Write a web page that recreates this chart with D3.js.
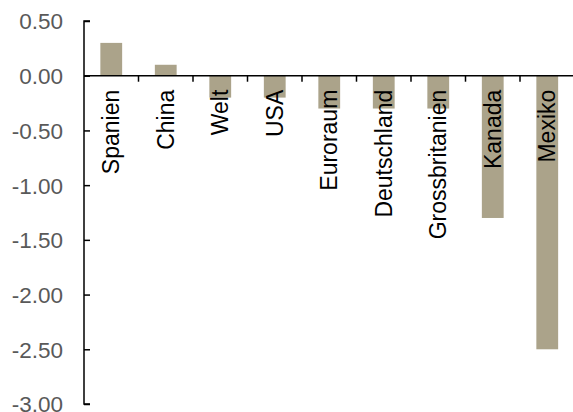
<!DOCTYPE html>
<html>
<head>
<meta charset="utf-8">
<script src="https://cdn.jsdelivr.net/npm/d3@7"></script>
<style>
  html, body { margin: 0; padding: 0; background: #fff; }
  svg { display: block; font-family: "Liberation Sans", Arial, sans-serif; }
</style>
</head>
<body>
<svg id="chart" width="573" height="412"></svg>
<script>
// Change by country (percentage points)
const categories = ["Spanien", "China", "Welt", "USA", "Euroraum", "Deutschland", "Grossbritanien", "Kanada", "Mexiko"];
const values = [0.3, 0.1, -0.2, -0.2, -0.3, -0.3, -0.3, -1.3, -2.5];
const yTicks = [0.5, 0, -0.5, -1, -1.5, -2, -2.5, -3];

const svg = d3.select("#chart");
const W = 573, H = 412;

const x = d3.scaleBand()
  .domain(categories)
  .range([84, 574.5])
  .paddingInner(0.6)
  .paddingOuter(0.3);

const y = d3.scaleLinear()
  .domain([-3, 0.5])
  .range([404, 21]);

// Plain hyphen-minus for negative tick labels
const fmt = d3.formatLocale({ decimal: ".", thousands: ",", grouping: [3], currency: ["", ""], minus: "-" }).format(".2f");

// Bars
svg.append("g")
  .selectAll("rect")
  .data(categories)
  .join("rect")
  .attr("x", d => x(d))
  .attr("width", x.bandwidth())
  .attr("y", (d, i) => y(Math.max(0, values[i])))
  .attr("height", (d, i) => Math.abs(y(values[i]) - y(0)))
  .attr("fill", "#aba38a");

// Y axis with inward ticks
const yAxis = svg.append("g")
  .attr("transform", "translate(84,0)")
  .call(d3.axisRight(y).tickValues(yTicks).tickSize(6).tickFormat(fmt));
yAxis.select(".domain").attr("stroke", "#000").attr("stroke-width", 1.5).attr("d", `M6,${y(0.5)}H0V${y(-3)}H6`);
yAxis.selectAll(".tick line").attr("stroke", "#000").attr("stroke-width", 1.5);
yAxis.selectAll(".tick text")
  .attr("x", -21)
  .attr("text-anchor", "end")
  .attr("fill", "#595959")
  .attr("font-size", "22.5px")
  .attr("dy", "0.35em");

// Category axis along zero line, ticks between categories
const bandStep = x.step();
const sepTicks = categories.slice(1).map(c => x(c) - x.paddingInner() * bandStep / 2);
const xAxis = svg.append("g");
xAxis.append("line")
  .attr("x1", 84).attr("x2", W)
  .attr("y1", y(0)).attr("y2", y(0))
  .attr("stroke", "#000").attr("stroke-width", 1.5);
xAxis.selectAll("line.sep")
  .data(sepTicks)
  .join("line")
  .attr("class", "sep")
  .attr("x1", d => d).attr("x2", d => d)
  .attr("y1", y(0)).attr("y2", y(0) + 6)
  .attr("stroke", "#000").attr("stroke-width", 1.5);

// Rotated category labels
svg.append("g")
  .selectAll("text")
  .data(categories)
  .join("text")
  .attr("transform", d => `translate(${x(d) + x.bandwidth() / 2},${y(0) + 14}) rotate(-90)`)
  .attr("text-anchor", "end")
  .attr("dy", "0.35em")
  .attr("font-size", "23px")
  .attr("fill", "#000")
  .text(d => d);
</script>
</body>
</html>
